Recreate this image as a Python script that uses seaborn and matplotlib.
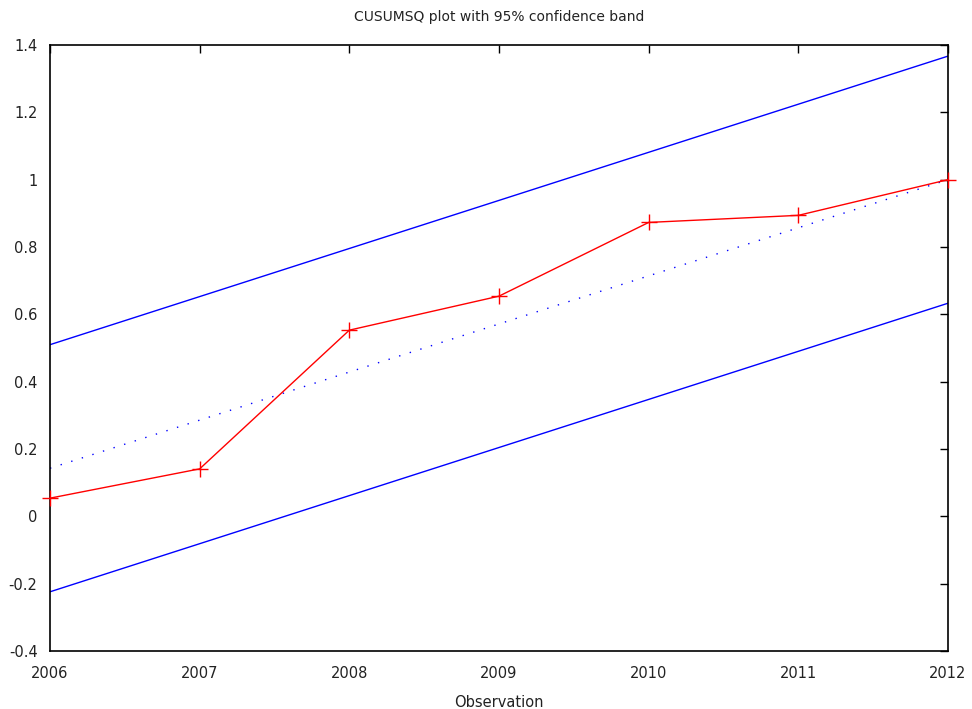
import matplotlib
matplotlib.use("Agg")
import matplotlib.pyplot as plt
import seaborn as sns
import pandas as pd

# CUSUMSQ statistic by observation year
years = [2006, 2007, 2008, 2009, 2010, 2011, 2012]
cusumsq = [0.054, 0.141, 0.553, 0.654, 0.873, 0.894, 1.0]
# Expected path under parameter stability (t/T)
expected = [1/7, 2/7, 3/7, 4/7, 5/7, 6/7, 1.0]
# Half-width of the 95% confidence band
band = 0.367

y_ticks = [-0.4, -0.2, 0, 0.2, 0.4, 0.6, 0.8, 1, 1.2, 1.4]
y_tick_labels = ["-0.4", "-0.2", "0", "0.2", "0.4", "0.6", "0.8", "1", "1.2", "1.4"]

df = pd.DataFrame({
    "year": years,
    "cusumsq": cusumsq,
    "expected": expected,
})
df["upper"] = df["expected"] + band
df["lower"] = df["expected"] - band

sns.set_style("white")
plt.rcParams["font.family"] = ["DejaVu Sans"]

fig = plt.figure(figsize=(9.72, 7.09), dpi=100)
ax = fig.add_axes([50/972, 1 - 651/709, 898/972, 606/709])

sns.lineplot(data=df, x="year", y="upper", ax=ax, color="blue", linewidth=1)
sns.lineplot(data=df, x="year", y="lower", ax=ax, color="blue", linewidth=1)
sns.lineplot(data=df, x="year", y="expected", ax=ax, color="blue",
             linewidth=1, linestyle=(0, (1, 7)))
sns.lineplot(data=df, x="year", y="cusumsq", ax=ax, color="red",
             linewidth=1, marker="+", markersize=12, markeredgewidth=1,
             markeredgecolor="red", markerfacecolor="red", clip_on=False,
             zorder=5)

ax.set_xlim(2006, 2012)
ax.set_ylim(-0.4, 1.4)
ax.set_xticks(years)
ax.set_xticklabels([str(y) for y in years])
ax.set_yticks(y_ticks)
ax.set_yticklabels(y_tick_labels)

ax.tick_params(direction="in", length=6, width=1, colors="black",
               labelsize=10.5, top=True, right=True, pad=9)
ax.tick_params(axis="x", pad=11)
for lab in ax.get_xticklabels() + ax.get_yticklabels():
    lab.set_color("#222222")
for s in ax.spines.values():
    s.set_color("black")
    s.set_linewidth(1.2)

ax.set_xlabel("Observation", fontsize=10.5, labelpad=10, color="#222222")
ax.set_ylabel("")
ax.set_title("CUSUMSQ plot with 95% confidence band", fontsize=10,
             pad=17, color="#222222")

fig.savefig("out.png", dpi=100)
